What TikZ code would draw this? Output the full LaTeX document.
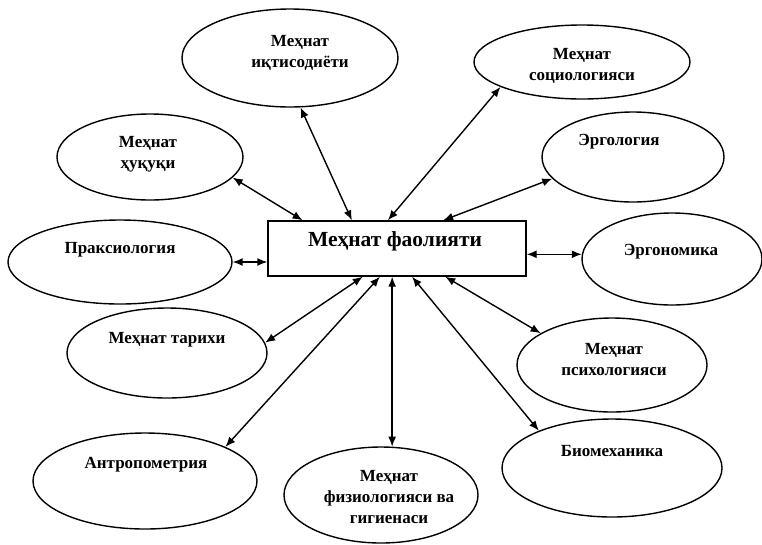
\documentclass[tikz,border=0pt]{standalone}
\usepackage{fontspec}
\setmainfont{Liberation Serif}
\usetikzlibrary{shapes.geometric,arrows.meta,calc}

\begin{document}
\begin{tikzpicture}[x=1pt,y=-1pt,
  oval/.style={draw, ellipse, line width=1.4pt, inner sep=0pt},
  lbl/.style={font=\bfseries\fontsize{17}{21}\selectfont, align=center, inner sep=0pt},
  hub/.style={draw, rectangle, line width=1.4pt, inner sep=0pt},
  link/.style={line width=1.4pt, {Latex[length=10pt,width=8pt]}-{Latex[length=10pt,width=8pt]}},
]
\useasboundingbox (0,0) rectangle (762,544);

% central block
\node[hub, minimum width=258pt, minimum height=55pt] (c) at (397,248.5) {};
\node[font=\bfseries\fontsize{21.5}{25}\selectfont, inner sep=0pt] (ct) at (395,241) {Меҳнат фаолияти};

% surrounding fields
\node[oval, minimum width=216pt, minimum height=98pt] (e1) at (290,58) {};
\node[oval, minimum width=216pt, minimum height=74pt] (e2) at (582,62) {};
\node[oval, minimum width=182pt, minimum height=90pt] (e3) at (633,157) {};
\node[oval, minimum width=186pt, minimum height=86pt] (e4) at (150,157) {};
\node[oval, minimum width=224pt, minimum height=84pt] (e5) at (120,262) {};
\node[oval, minimum width=180pt, minimum height=92pt] (e6) at (672,259) {};
\node[oval, minimum width=200pt, minimum height=90pt] (e7) at (167,353) {};
\node[oval, minimum width=224pt, minimum height=96pt] (e8) at (145,481) {};
\node[oval, minimum width=194pt, minimum height=96pt] (e9) at (381,495) {};
\node[oval, minimum width=220pt, minimum height=98pt] (e10) at (612,468) {};
\node[oval, minimum width=190pt, minimum height=94pt] (e11) at (612,365) {};

% labels
\node[lbl] (t1) at (300,53) {Меҳнат\\иқтисодиёти};
\node[lbl] (t2) at (582,66) {Меҳнат\\социологияси};
\node[lbl] (t3) at (619,142) {Эргология};
\node[lbl] (t4) at (148,154) {Меҳнат\\ҳуқуқи};
\node[lbl] (t5) at (120,250) {Праксиология};
\node[lbl] (t6) at (671,252) {Эргономика};
\node[lbl] (t7) at (167,340) {Меҳнат тарихи};
\node[lbl] (t8) at (146,465) {Антропометрия};
\node[lbl] (t9) at (389,497) {Меҳнат\\физиологияси ва\\гигиенаси};
\node[lbl] (t10) at (612,451) {Биомеханика};
\node[lbl] (t11) at (614,360) {Меҳнат\\психологияси};

% connectors
\draw[link] (e4.346) -- ($(c.north west)!0.136!(c.north east)$);
\draw[link] (e1.282) -- ($(c.north west)!0.326!(c.north east)$);
\draw[link] (e2.197) -- ($(c.north west)!0.465!(c.north east)$);
\draw[link] (e3.195) -- ($(c.north west)!0.678!(c.north east)$);
\draw[link] (e5.east) -- (c.west |- e5.east);
\draw[link] (e6.177) -- (c.east |- e6.177);
\draw[link] (e7.6) -- ($(c.south west)!0.368!(c.south east)$);
\draw[link] (e8.23) -- ($(c.south west)!0.434!(c.south east)$);
\draw[link] (e9.77) -- (e9.77 |- c.south);
\draw[link] (e10.153) -- ($(c.south west)!0.558!(c.south east)$);
\draw[link] (e11.156) -- ($(c.south west)!0.686!(c.south east)$);
\end{tikzpicture}
\end{document}
